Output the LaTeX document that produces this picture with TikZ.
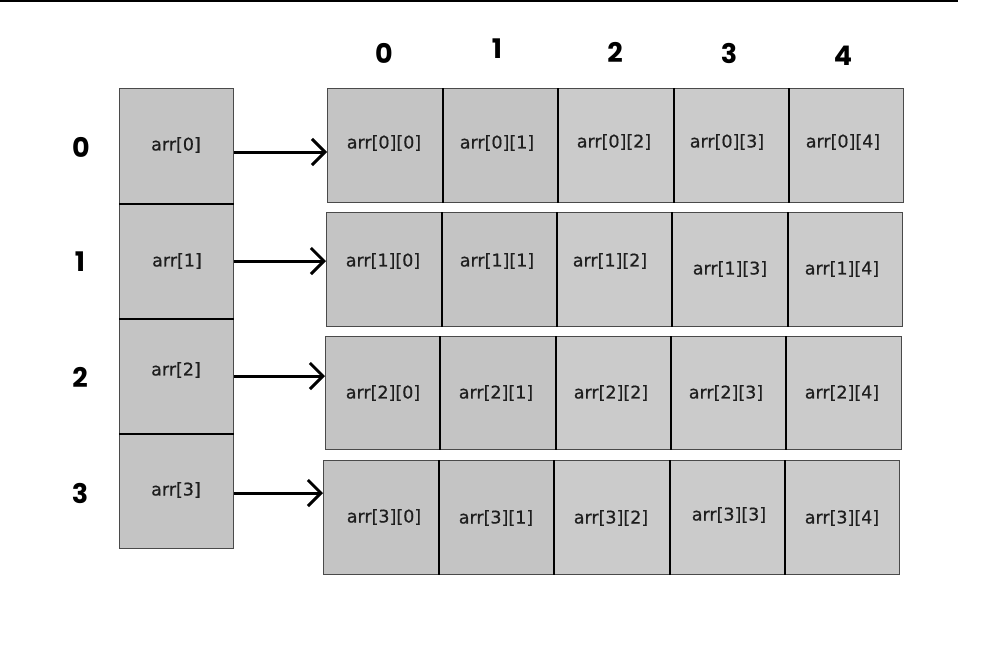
\documentclass[tikz,border=0pt]{standalone}
\usepackage{fontspec}
\setmainfont{DejaVu Sans}
\newfontfamily\cellfont[FakeBold=0.6]{DejaVu Sans}
\newfontfamily\hdfont{Poppins}
\usetikzlibrary{arrows.meta}
\definecolor{darkcell}{HTML}{C4C4C4}
\definecolor{lightcell}{HTML}{CBCBCB}
\definecolor{edgegrey}{HTML}{4A4A4A}
\definecolor{textgrey}{HTML}{1E1E1E}
\tikzset{
  cellbox/.style={draw=edgegrey, line width=1.3pt, inner sep=0pt, anchor=north west},
  celltext/.style={font=\cellfont\fontsize{17.5}{20}\selectfont, inner sep=0pt, text=textgrey},
  hdr/.style={font=\hdfont\bfseries\fontsize{27}{30}\selectfont, inner sep=0pt},
  divider/.style={draw=black, line width=2pt},
  ptr/.style={draw=black, line width=3pt, -{Straight Barb[length=13pt,width=26pt,line width=3pt]}},
}
\begin{document}
\begin{tikzpicture}[x=1pt,y=-1pt]
\useasboundingbox (0,0) rectangle (991,648);
\draw[line width=1.6pt] (0,0.8) -- (958,0.8);

% left pointer column
\foreach \r/\ya/\yb in {0/88/203,1/203/318,2/318/433,3/433/548}{
  \node[cellbox, fill=darkcell, minimum width=114pt, minimum height={(\yb-\ya)*1pt}] (l\r) at (119,\ya) {};
}
\foreach \r in {0,1,2}{ \draw[divider] (l\r.south west) -- (l\r.south east); }
\node[celltext] (tl0) at (176,145) {arr[0]};
\node[celltext] (tl1) at (177,261) {arr[1]};
\node[celltext] (tl2) at (176,370) {arr[2]};
\node[celltext] (tl3) at (176,490) {arr[3]};

% row cells: r/c/x1/x2/ytop/ybot/fill
\foreach \r/\c/\xa/\xb/\ya/\yb/\f in {
 0/0/327/442/88/202/darkcell, 0/1/442/557/88/202/darkcell, 0/2/557/673/88/202/lightcell, 0/3/673/788/88/202/lightcell, 0/4/788/903/88/202/lightcell,
 1/0/326/441/212/326/darkcell, 1/1/441/556/212/326/darkcell, 1/2/556/671/212/326/lightcell, 1/3/671/787/212/326/lightcell, 1/4/787/902/212/326/lightcell,
 2/0/325/439/336/449/darkcell, 2/1/439/555/336/449/darkcell, 2/2/555/670/336/449/lightcell, 2/3/670/785/336/449/lightcell, 2/4/785/901/336/449/lightcell,
 3/0/323/438/460/574/darkcell, 3/1/438/553/460/574/darkcell, 3/2/553/669/460/574/lightcell, 3/3/669/784/460/574/lightcell, 3/4/784/899/460/574/lightcell}{
  \node[cellbox, fill=\f, minimum width={(\xb-\xa)*1pt}, minimum height={(\yb-\ya)*1pt}] (c\r\c) at (\xa,\ya) {};
}
\foreach \r in {0,1,2,3}{
  \foreach \c in {0,1,2,3}{
    \draw[divider] (c\r\c.north east) -- (c\r\c.south east);
  }
}

% cell texts r/c/x/y
\foreach \r/\c/\x/\y in {
 0/0/384/143, 0/1/497/143, 0/2/614/142, 0/3/727/142, 0/4/843/142,
 1/0/383/261, 1/1/497/261, 1/2/610/261, 1/3/730/269, 1/4/842/269,
 2/0/383/393, 2/1/496/393, 2/2/611/393, 2/3/726/393, 2/4/842/393,
 3/0/384/517, 3/1/496/518, 3/2/611/518, 3/3/729/515, 3/4/842/518}{
  \node[celltext] (t\r\c) at (\x,\y) {arr[\r][\c]};
}

% pointers
\draw[ptr] (l0.east |- 0,152) -- (c00.west |- 0,152);
\draw[ptr] (l1.east |- 0,261) -- (c10.west |- 0,261);
\draw[ptr] (l2.east |- 0,376) -- (c20.west |- 0,376);
\draw[ptr] (l3.east |- 0,493) -- (c30.west |- 0,493);

% column headers
\node[hdr] (h0) at (384,53.5) {0};
\node[hdr] (h1) at (497,49) {1};
\node[hdr] (h2) at (615,52) {2};
\node[hdr] (h3) at (729,53) {3};
\node[hdr] (h4) at (843,55.5) {4};

% row headers
\node[hdr] (r0) at (81,147.5) {0};
\node[hdr] (r1) at (80,262) {1};
\node[hdr] (r2) at (80,377) {2};
\node[hdr] (r3) at (80,493) {3};
\end{tikzpicture}
\end{document}
